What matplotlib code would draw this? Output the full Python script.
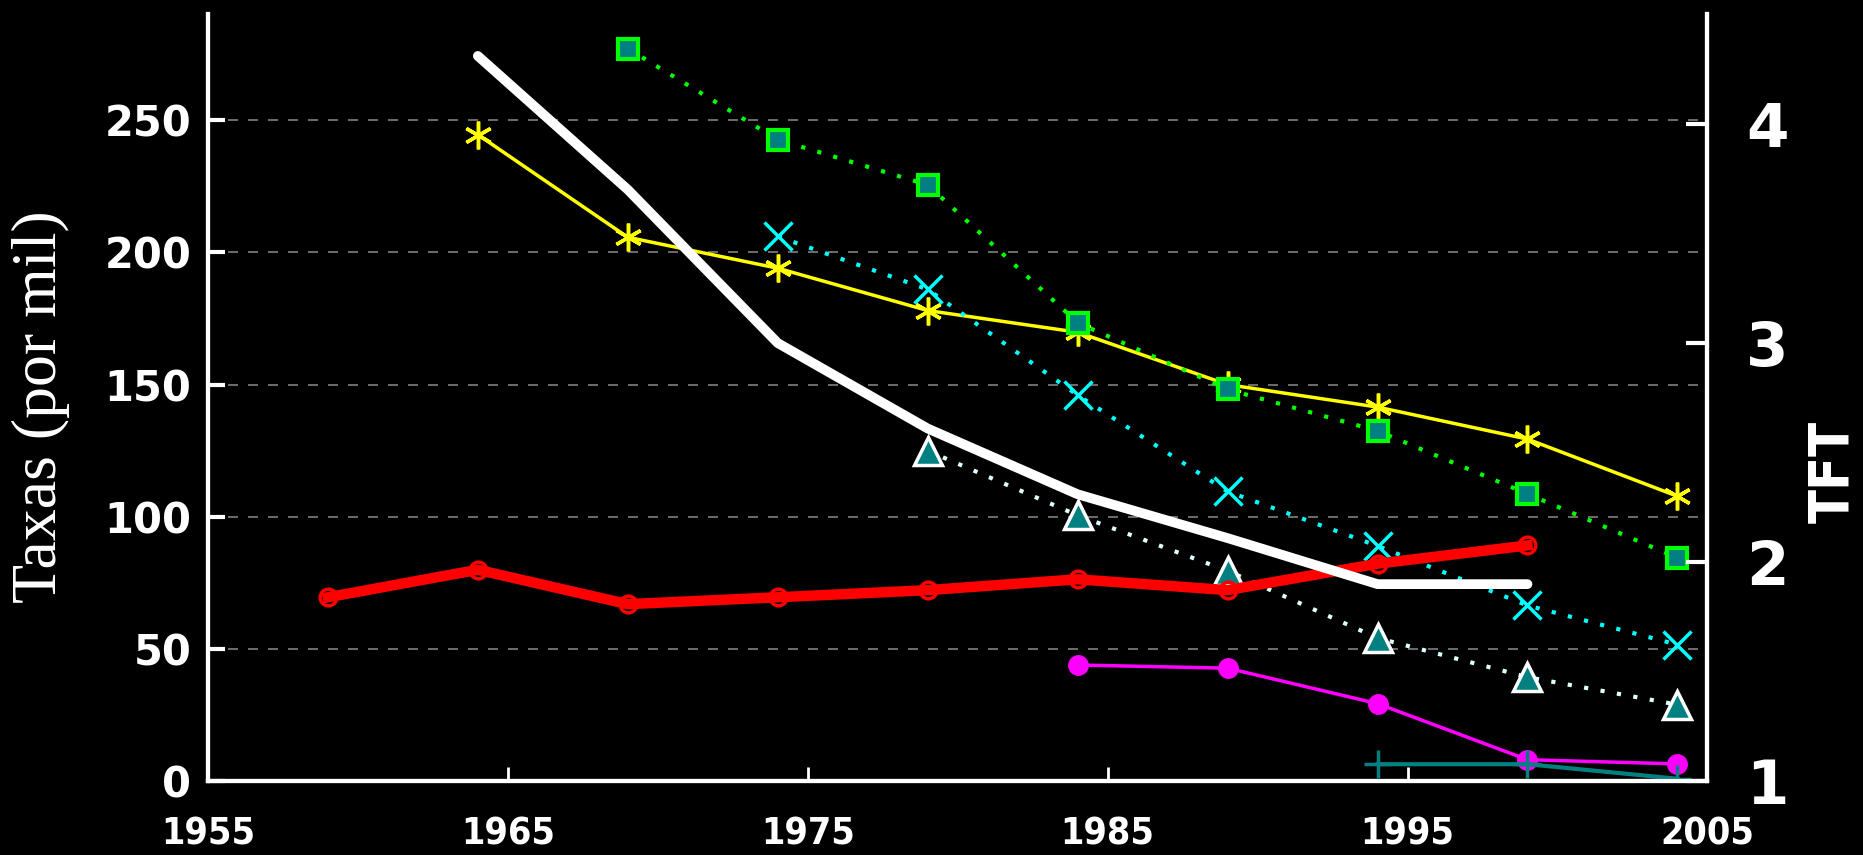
import matplotlib
matplotlib.use('Agg')
import matplotlib.pyplot as plt

# survey years and rates (per thousand)
yrs_red = [1959, 1964, 1969, 1974, 1979, 1984, 1989, 1994, 1999]
red_vals = [69.6, 80, 67, 69.6, 72.3, 76.4, 72.3, 82.3, 89.2]

yrs_yellow = [1964, 1969, 1974, 1979, 1984, 1989, 1994, 1999, 2004]
yellow_vals = [244.5, 205.7, 194, 178, 169.8, 150, 141.5, 129.4, 107.8]

yrs_green = [1969, 1974, 1979, 1984, 1989, 1994, 1999, 2004]
green_vals = [277, 242.6, 225.5, 173.4, 148.2, 132.5, 108.7, 84.5]

yrs_cyan = [1974, 1979, 1984, 1989, 1994, 1999, 2004]
cyan_vals = [206, 186, 146, 109.6, 89, 66.5, 51.7]

yrs_tri = [1979, 1984, 1989, 1994, 1999, 2004]
tri_vals = [125, 100.6, 79.6, 54.2, 39.4, 29]

yrs_mag = [1984, 1989, 1994, 1999, 2004]
mag_vals = [44, 42.8, 29.4, 8.2, 6.6]

yrs_plus = [1994, 1999, 2004]
plus_vals = [6.5, 6.5, 1]

# TFT on right axis
yrs_tft = [1964, 1969, 1974, 1979, 1984, 1989, 1994, 1999]
tft_vals = [4.31, 3.70, 3.00, 2.61, 2.31, 2.11, 1.90, 1.90]

x_ticks = [1955, 1965, 1975, 1985, 1995, 2005]
left_ticks = [0, 50, 100, 150, 200, 250]
right_ticks = [1, 2, 3, 4]

fig = plt.figure(figsize=(18.63, 8.55), dpi=100, facecolor='black')
ax = fig.add_axes([0.1116, 0.0861, 0.8049, 0.8972])
ax.set_facecolor('black')
ax2 = ax.twinx()

ax.set_xlim(1955, 2005)
ax.set_ylim(0, 290)
ax2.set_ylim(1, 4.5)

# grid
for v in left_ticks[1:]:
    ax.axhline(v, color='#808080', lw=1.2, ls=(0, (6, 6)), zorder=0)

ax.plot(yrs_yellow, yellow_vals, color='yellow', lw=2.5, marker=(6, 2, 0),
        ms=20, mew=2.5, zorder=3)
ax.plot(yrs_green, green_vals, color='#00ff00', lw=3, ls=(0, (1, 3)),
        marker='s', ms=14, mfc='#008080', mec='#00ff00', mew=3, zorder=3)
ax.plot(yrs_cyan, cyan_vals, color='cyan', lw=3, ls=(0, (1, 3)),
        marker='x', ms=20, mew=2.5, zorder=3)
ax.plot(yrs_tri, tri_vals, color='#e0ffff', lw=3, ls=(0, (1, 3)),
        marker='^', ms=20, mfc='#008080', mec='white', mew=2.5, zorder=3)
ax.plot(yrs_mag, mag_vals, color='magenta', lw=2.5, marker='o', ms=14, zorder=3)
ax.plot(yrs_plus, plus_vals, color='#008080', lw=3, marker='+', ms=20,
        mew=2.5, zorder=3)
ax.plot(yrs_red, red_vals, color='red', lw=7.5, marker='o', ms=12,
        mfc='none', mec='red', mew=2.5, zorder=4)

ax2.plot(yrs_tft, tft_vals, color='white', lw=7, solid_capstyle='round',
         solid_joinstyle='miter', zorder=3)

# spines and ticks
for a in (ax, ax2):
    for s in a.spines.values():
        s.set_color('white')
        s.set_linewidth(3)
    a.spines['top'].set_visible(False)

ax.set_xticks(x_ticks)
ax.set_yticks(left_ticks)
ax2.set_yticks(right_ticks)
ax.tick_params(axis='x', direction='in', length=10, width=2, colors='white', pad=25)
ax.tick_params(axis='y', direction='in', length=12, width=3, colors='white', pad=12)
ax2.tick_params(axis='y', direction='in', length=15, width=3, colors='white', pad=28)

for lab in ax.get_xticklabels():
    lab.set_family('DejaVu Sans')
    lab.set_fontstretch('condensed')
    lab.set_fontweight('bold')
    lab.set_fontsize(27)
for lab in ax.get_yticklabels():
    lab.set_family('DejaVu Sans')
    lab.set_fontweight('bold')
    lab.set_fontsize(30)
for lab in ax2.get_yticklabels():
    lab.set_family('DejaVu Sans')
    lab.set_fontweight('bold')
    lab.set_fontsize(44)

ax.set_ylabel('Taxas (por mil)', family='Liberation Serif', fontsize=46,
              color='white')
ax.yaxis.set_label_coords(-0.092, 0.488)
ax2.set_ylabel('TFT', family='DejaVu Sans', fontstretch='condensed',
               fontweight='bold', fontsize=40, color='white', rotation=90)
ax2.yaxis.set_label_coords(1.066, 0.404)

fig.savefig('out.png', dpi=100, facecolor='black')
